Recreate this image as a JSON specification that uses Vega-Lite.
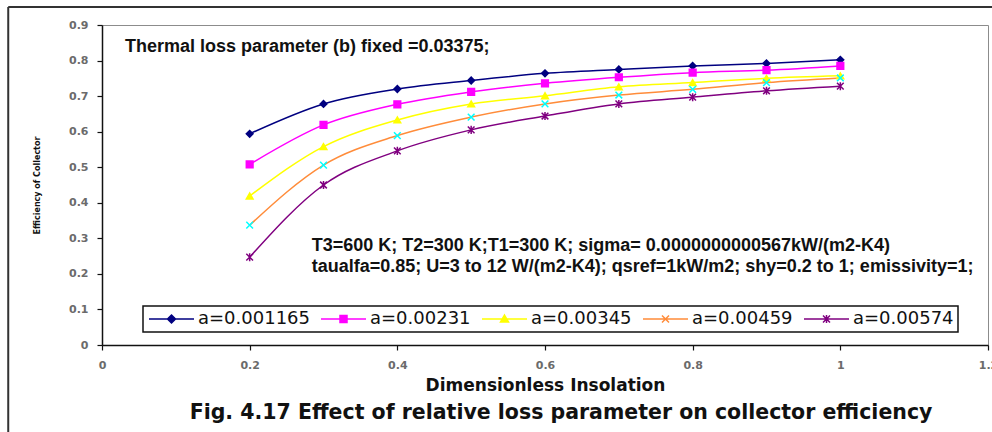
{
  "$schema": "https://vega.github.io/schema/vega-lite/v6.json",
  "width": 886,
  "height": 320,
  "autosize": {"type": "none"},
  "padding": {"left": 102, "top": 25, "right": 4, "bottom": 87},
  "background": "white",
  "config": {
    "view": {"stroke": "#8c8c8c", "strokeWidth": 1},
    "font": "DejaVu Sans",
    "axis": {
      "grid": false, "domainColor": "#111111", "domainWidth": 1.5, "tickColor": "#111111",
      "tickSize": 5, "tickWidth": 1.2, "labelFont": "DejaVu Sans",
      "labelFontSize": 11, "labelFontWeight": "bold", "labelColor": "#6b6b6b",
      "labelFlush": false, "titleFont": "DejaVu Sans", "titleFontWeight": "bold", "titleColor": "#111111"
    }
  },
  "resolve": {"axis": {"x": "independent", "y": "independent"}},
  "layer": [
    {
      "data": {"values": [{}]},
      "mark": {"type": "rule", "color": "#333333", "strokeWidth": 2},
      "encoding": {
        "x": {"datum": -0.127, "type": "quantitative", "axis": null},
        "y": {"datum": 0.9506, "type": "quantitative", "axis": null},
        "y2": {"datum": -0.4}
      }
    },
    {
      "data": {"values": [{}]},
      "mark": {"type": "rule", "color": "#333333", "strokeWidth": 2},
      "encoding": {
        "x": {"datum": -0.127, "type": "quantitative", "axis": null},
        "x2": {"datum": 1.4},
        "y": {"datum": 0.9506, "type": "quantitative", "axis": null}
      }
    },
    {
      "data": {"values": [
        {"series": "a=0.001165", "x": 0.2, "y": 0.594},
        {"series": "a=0.001165", "x": 0.3, "y": 0.678},
        {"series": "a=0.001165", "x": 0.4, "y": 0.72},
        {"series": "a=0.001165", "x": 0.5, "y": 0.744},
        {"series": "a=0.001165", "x": 0.6, "y": 0.764},
        {"series": "a=0.001165", "x": 0.7, "y": 0.775},
        {"series": "a=0.001165", "x": 0.8, "y": 0.785},
        {"series": "a=0.001165", "x": 0.9, "y": 0.792},
        {"series": "a=0.001165", "x": 1.0, "y": 0.802},
        {"series": "a=0.00231", "x": 0.2, "y": 0.508},
        {"series": "a=0.00231", "x": 0.3, "y": 0.619},
        {"series": "a=0.00231", "x": 0.4, "y": 0.677},
        {"series": "a=0.00231", "x": 0.5, "y": 0.712},
        {"series": "a=0.00231", "x": 0.6, "y": 0.736},
        {"series": "a=0.00231", "x": 0.7, "y": 0.753},
        {"series": "a=0.00231", "x": 0.8, "y": 0.766},
        {"series": "a=0.00231", "x": 0.9, "y": 0.773},
        {"series": "a=0.00231", "x": 1.0, "y": 0.785},
        {"series": "a=0.00345", "x": 0.2, "y": 0.419},
        {"series": "a=0.00345", "x": 0.3, "y": 0.558},
        {"series": "a=0.00345", "x": 0.4, "y": 0.633},
        {"series": "a=0.00345", "x": 0.5, "y": 0.678},
        {"series": "a=0.00345", "x": 0.6, "y": 0.701},
        {"series": "a=0.00345", "x": 0.7, "y": 0.726},
        {"series": "a=0.00345", "x": 0.8, "y": 0.738},
        {"series": "a=0.00345", "x": 0.9, "y": 0.75},
        {"series": "a=0.00345", "x": 1.0, "y": 0.757},
        {"series": "a=0.00459", "x": 0.2, "y": 0.337},
        {"series": "a=0.00459", "x": 0.3, "y": 0.506},
        {"series": "a=0.00459", "x": 0.4, "y": 0.589},
        {"series": "a=0.00459", "x": 0.5, "y": 0.641},
        {"series": "a=0.00459", "x": 0.6, "y": 0.678},
        {"series": "a=0.00459", "x": 0.7, "y": 0.703},
        {"series": "a=0.00459", "x": 0.8, "y": 0.719},
        {"series": "a=0.00459", "x": 0.9, "y": 0.738},
        {"series": "a=0.00459", "x": 1.0, "y": 0.751},
        {"series": "a=0.00574", "x": 0.2, "y": 0.247},
        {"series": "a=0.00574", "x": 0.3, "y": 0.45},
        {"series": "a=0.00574", "x": 0.4, "y": 0.546},
        {"series": "a=0.00574", "x": 0.5, "y": 0.605},
        {"series": "a=0.00574", "x": 0.6, "y": 0.644},
        {"series": "a=0.00574", "x": 0.7, "y": 0.678},
        {"series": "a=0.00574", "x": 0.8, "y": 0.697},
        {"series": "a=0.00574", "x": 0.9, "y": 0.715},
        {"series": "a=0.00574", "x": 1.0, "y": 0.728}
      ]},
      "encoding": {
        "x": {
          "field": "x", "type": "quantitative",
          "scale": {"domain": [0, 1.2], "nice": false, "zero": false},
          "axis": {
            "title": "Dimensionless Insolation", "values": [0, 0.2, 0.4, 0.6, 0.8, 1, 1.2],
            "labelExpr": "datum.value == 0 ? '0' : datum.value == 1 ? '1' : format(datum.value, '.1f')",
            "labelPadding": 9, "titleFontSize": 17, "titlePadding": 7
          }
        },
        "y": {
          "field": "y", "type": "quantitative",
          "scale": {"domain": [0, 0.9], "nice": false, "zero": false},
          "axis": {
            "title": "Efficiency of Collector", "values": [0, 0.1, 0.2, 0.3, 0.4, 0.5, 0.6, 0.7, 0.8, 0.9],
            "labelExpr": "datum.value == 0 ? '0' : format(datum.value, '.1f')",
            "labelPadding": 9, "titleFontSize": 8, "titlePadding": 27
          }
        }
      },
      "layer": [
        {
          "mark": {"type": "line", "interpolate": "monotone", "strokeWidth": 1.5},
          "encoding": {
            "color": {
              "field": "series", "type": "nominal",
              "scale": {
                "domain": ["a=0.001165", "a=0.00231", "a=0.00345", "a=0.00459", "a=0.00574"],
                "range": ["#000080", "#ff00ff", "#ffff00", "#ff8c3a", "#800080"]
              },
              "legend": {
                "orient": "none", "legendX": 41, "legendY": 281, "direction": "horizontal",
                "title": null, "strokeColor": "#111111", "fillColor": "white", "padding": 4,
                "symbolSize": 100, "symbolType": "M-1.4,0H7.6", "symbolStrokeWidth": 1.5,
                "labelOffset": 33, "columnPadding": 8, "labelFont": "DejaVu Sans",
                "labelFontSize": 18, "labelColor": "#111111", "labelLimit": 300,
                "encode": {
                  "legend": {"update": {"strokeWidth": {"value": 1.5}}},
                  "symbols": {"update": {
                    "shape": {"signal": "['M-1.4,0H7.6M3.1,-0.8L3.9,0L3.1,0.8L2.3,0Z','M-1.4,0H7.6M2.4,-0.7H3.8V0.7H2.4Z','M-1.4,0H7.6M3.1,-0.8L3.9,0.6H2.3Z','M-1.4,0H7.6M2.4,-0.7L3.8,0.7M2.4,0.7L3.8,-0.7','M-1.4,0H7.6M2.4,-0.7L3.8,0.7M2.4,0.7L3.8,-0.7M3.1,-0.8V0.8'][indexof(['a=0.001165','a=0.00231','a=0.00345','a=0.00459','a=0.00574'], datum.value)]"},
                    "fill": {"signal": "scale('color', datum.value)"},
                    "fillOpacity": {"value": 1},
                    "size": {"value": 100},
                    "strokeWidth": {"value": 1.5},
                    "opacity": {"value": 1}
                  }}
                }
              }
            }
          }
        },
        {
          "mark": {"type": "point", "filled": false, "strokeWidth": 1.5, "opacity": 1},
          "encoding": {
            "shape": {
              "field": "series", "type": "nominal", "legend": null,
              "scale": {
                "domain": ["a=0.00574", "a=0.00459", "a=0.00345", "a=0.00231", "a=0.001165"],
                "range": ["M-1,-1L1,1M-1,1L1,-1M0,-1.2V1.2", "M-1,-1L1,1M-1,1L1,-1", "triangle-up", "square", "diamond"]
              }
            },
            "fill": {
              "field": "series", "type": "nominal", "legend": null,
              "scale": {
                "domain": ["a=0.00574", "a=0.00459", "a=0.00345", "a=0.00231", "a=0.001165"],
                "range": ["#800080", "#00ffff", "#ffff00", "#ff00ff", "#000080"]
              }
            },
            "stroke": {
              "field": "series", "type": "nominal", "legend": null,
              "scale": {
                "domain": ["a=0.00574", "a=0.00459", "a=0.00345", "a=0.00231", "a=0.001165"],
                "range": ["#800080", "#00ffff", "#ffff00", "#ff00ff", "#000080"]
              }
            },
            "size": {"value": 45}
          }
        }
      ]
    },
    {
      "data": {"values": [{"label": "Thermal loss parameter (b) fixed =0.03375;"}]},
      "mark": {"type": "text", "align": "left", "baseline": "middle", "font": "Liberation Sans", "fontSize": 18, "fontWeight": "bold", "color": "#111111"},
      "encoding": {
        "x": {"datum": 0.031, "type": "quantitative", "axis": null},
        "y": {"datum": 0.838, "type": "quantitative", "axis": null},
        "text": {"field": "label"}
      }
    },
    {
      "data": {"values": [{"label": "T3=600 K; T2=300 K;T1=300 K; sigma= 0.0000000000567kW/(m2-K4)\ntaualfa=0.85; U=3 to 12 W/(m2-K4); qsref=1kW/m2; shy=0.2 to 1; emissivity=1;"}]},
      "mark": {"type": "text", "align": "left", "baseline": "middle", "lineBreak": "\n", "lineHeight": 21, "font": "Liberation Sans", "fontSize": 18, "fontWeight": "bold", "color": "#111111"},
      "encoding": {
        "x": {"datum": 0.284, "type": "quantitative", "axis": null},
        "y": {"datum": 0.2798, "type": "quantitative", "axis": null},
        "text": {"field": "label"}
      }
    },
    {
      "data": {"values": [{"label": "Fig. 4.17 Effect of relative loss parameter on collector efficiency"}]},
      "mark": {"type": "text", "align": "center", "baseline": "middle", "font": "DejaVu Sans", "fontSize": 20.5, "fontWeight": "bold", "color": "#111111"},
      "encoding": {
        "x": {"datum": 0.6217, "type": "quantitative", "axis": null},
        "y": {"datum": -0.1913, "type": "quantitative", "axis": null},
        "text": {"field": "label"}
      }
    }
  ]
}
